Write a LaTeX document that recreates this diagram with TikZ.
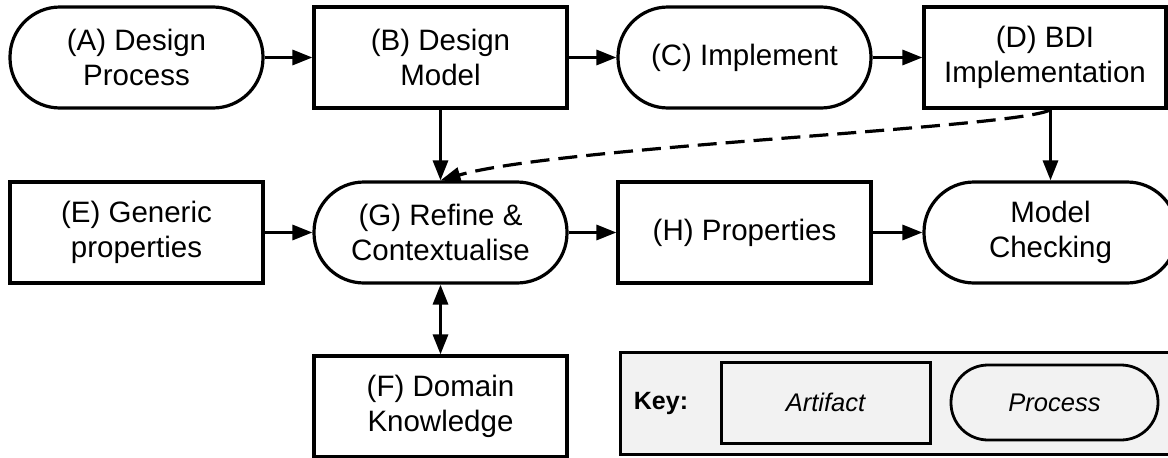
\documentclass[tikz,border=0pt]{standalone}
\usepackage{fontspec}
\setmainfont{Liberation Sans}
\usetikzlibrary{arrows.meta}
\definecolor{keygray}{HTML}{F2F2F2}
\begin{document}
\begin{tikzpicture}[x=1pt,y=-1pt,
  base/.style={draw=black, line width=3.2pt, inner sep=0pt, align=center,
    font=\fontsize{29.5}{35}\selectfont, minimum height=101pt, minimum width=253pt},
  artifact/.style={base, rectangle},
  process/.style={base, rectangle, rounded corners=50pt},
  link/.style={line width=3.2pt, -{Triangle[length=20pt,width=15pt]}},
  dlink/.style={line width=3.2pt, {Triangle[length=20pt,width=15pt]}-{Triangle[length=20pt,width=15pt]}},
  dashlink/.style={line width=3.2pt, dash pattern=on 19pt off 9pt, -{Triangle[length=20pt,width=15pt]}},
  keytext/.style={font=\fontsize{25.5}{30}\selectfont\itshape},
  keyart/.style={draw=black, line width=3pt, rectangle, inner sep=0pt, minimum width=209pt, minimum height=81pt, keytext},
  keyproc/.style={draw=black, line width=2.8pt, rectangle, rounded corners=37pt, inner sep=0pt, minimum width=207pt, minimum height=75pt, keytext},
]
\useasboundingbox (0,0) rectangle (1168,458);
\clip (0,0) rectangle (1168,458);
\fill[white] (0,0) rectangle (1168,458);

% key box
\node[draw=black, line width=3.2pt, fill=keygray, rectangle, inner sep=0pt,
  minimum width=570pt, minimum height=102pt, anchor=north west] (key) at (619,351) {};
\node[font=\fontsize{25}{30}\selectfont\bfseries] (keylabel) at (661,403) {Key:};
\node[keyart] (keyA) at (825.5,402.5) {Artifact};
\node[keyproc] (keyP) at (1054.5,402.5) {Process};

% main nodes
\node[process]  (A) at (136.5,57.5) {(A) Design\\Process};
\node[artifact] (B) at (440.5,57.5) {(B) Design\\Model};
\node[process]  (C) at (744.5,57.5) {(C) Implement};
\node[artifact, minimum width=242pt] (D) at (1045,57.5) {(D) BDI\\Implementation};
\node[artifact] (E) at (136.5,232.5) {(E) Generic\\properties};
\node[process]  (G) at (440.5,232.5) {(G) Refine \&\\Contextualise};
\node[artifact] (H) at (744.5,232.5) {(H) Properties};
\node[process]  (M) at (1050.5,232.5) {Model\\Checking};
\node[artifact] (F) at (440.5,406.5) {(F) Domain\\Knowledge};

\coordinate (Dout) at (M.north |- D.south);

% connectors
\draw[link] (A) -- (B);
\draw[link] (B) -- (C);
\draw[link] (C) -- (D);
\draw[link] (B) -- (G);
\draw[link] (E) -- (G);
\draw[link] (G) -- (H);
\draw[link] (H) -- (M);
\draw[link] (Dout) -- (M.north);
\draw[dlink] (G) -- (F);
\draw[dashlink] (Dout) .. controls (1022,128) and (560,146) .. (G.north);
\end{tikzpicture}
\end{document}
